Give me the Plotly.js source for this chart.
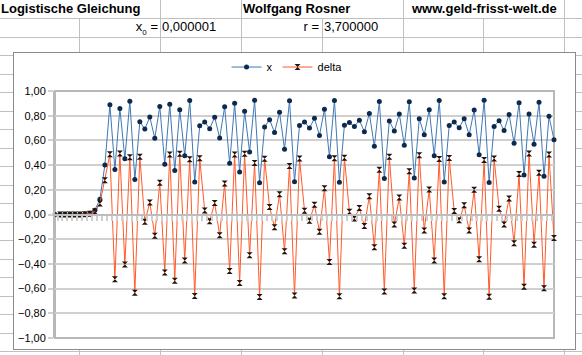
<!DOCTYPE html>
<html>
<head>
<meta charset="utf-8">
<script src="https://cdn.plot.ly/plotly-3.0.1.min.js"></script>
<style>
  html, body { margin: 0; padding: 0; background: #fff; }
  #sheet { position: relative; width: 582px; height: 355px; overflow: hidden; background: #fff;
           font-family: "Liberation Sans", Arial, sans-serif; font-size: 13px; color: #000; }
  .hl { position: absolute; left: 0; width: 582px; height: 1px; background: #c0c0c0; }
  .vl { position: absolute; width: 1px; background: #c0c0c0; }
  .txt { position: absolute; white-space: nowrap; line-height: 18px; }
  .cellbg { position: absolute; background: #fff; }
  #box { position: absolute; left: 13px; top: 52px; width: 563px; height: 298px; background: #fff;
         border: 1px solid #8a8a8a; box-sizing: border-box; }
  #chart { position: absolute; left: 0; top: 0; width: 582px; height: 355px; }
</style>
</head>
<body>
<div id="sheet">
  <div id="grid"></div>
  <div class="cellbg" style="left:0;top:0;width:159px;height:18px;"></div>
  <div class="cellbg" style="left:242px;top:0;width:160px;height:18px;"></div>
  <div class="cellbg" style="left:404px;top:0;width:159px;height:18px;"></div>
  <div class="txt" style="left:1px;top:0;font-weight:bold;">Logistische Gleichung</div>
  <div class="txt" style="left:243px;top:0;font-weight:bold;">Wolfgang Rosner</div>
  <div class="txt" style="left:412px;top:0;font-weight:bold;">www.geld-frisst-welt.de</div>
  <div class="txt" style="left:80px;top:18px;width:78px;text-align:right;">x<sub style="font-size:8px;">0</sub> =</div>
  <div class="txt" style="left:162px;top:18px;">0,000001</div>
  <div class="txt" style="left:242px;top:18px;width:77px;text-align:right;">r = </div>
  <div class="txt" style="left:324px;top:18px;">3,700000</div>
  <div id="box"></div>
  <div id="chart"></div>
</div>
<script>
// ---- data ----
const steps = [0,1,2,3,4,5,6,7,8,9,10,11,12,13,14,15,16,17,18,19,20,21,22,23,24,25,26,27,28,29,30,
  31,32,33,34,35,36,37,38,39,40,41,42,43,44,45,46,47,48,49,50,51,52,53,54,55,56,57,58,59,60,
  61,62,63,64,65,66,67,68,69,70,71,72,73,74,75,76,77,78,79,80,81,82,83,84,85,86,87,88,89,90,
  91,92,93,94,95,96,97,98,99,100];

const xValues = [0.000001,0.0000037,0.0000137,0.0000507,0.000187,0.000693,0.00256,0.00946,0.0347,0.124,
  0.401,0.889,0.365,0.858,0.452,0.917,0.283,0.751,0.692,0.789,
  0.617,0.875,0.406,0.892,0.356,0.848,0.476,0.923,0.263,0.718,
  0.750,0.695,0.788,0.620,0.872,0.414,0.900,0.345,0.836,0.507,
  0.925,0.257,0.708,0.768,0.664,0.827,0.529,0.922,0.266,0.720,
  0.750,0.700,0.779,0.640,0.852,0.468,0.924,0.262,0.722,0.744,
  0.712,0.764,0.670,0.818,0.552,0.914,0.291,0.758,0.677,0.814,
  0.561,0.912,0.296,0.775,0.645,0.848,0.475,0.924,0.263,0.720,
  0.748,0.702,0.776,0.646,0.846,0.484,0.925,0.259,0.713,0.760,
  0.680,0.810,0.577,0.905,0.320,0.814,0.569,0.908,0.310,0.795,
  0.605];

const deltaValues = [null,0.0000027,0.00001,0.000037,0.000137,0.000506,0.00187,0.0069,0.0252,0.089,
  0.278,0.488,-0.524,0.493,-0.405,0.464,-0.633,0.468,-0.059,0.097,
  -0.172,0.258,-0.469,0.486,-0.536,0.492,-0.372,0.447,-0.660,0.455,
  0.032,-0.054,0.093,-0.168,0.252,-0.458,0.486,-0.555,0.491,-0.329,
  0.418,-0.668,0.451,0.060,-0.104,0.163,-0.298,0.393,-0.656,0.454,
  0.030,-0.050,0.079,-0.139,0.212,-0.384,0.456,-0.662,0.460,0.022,
  -0.032,0.052,-0.094,0.148,-0.266,0.362,-0.623,0.467,-0.081,0.137,
  -0.253,0.351,-0.616,0.479,-0.130,0.203,-0.373,0.449,-0.661,0.457,
  0.028,-0.046,0.074,-0.130,0.200,-0.362,0.441,-0.666,0.454,0.047,
  -0.080,0.130,-0.233,0.328,-0.585,0.494,-0.245,0.339,-0.598,0.485,
  -0.190];

const seriesNames = ["x", "delta"];

// ---- spreadsheet grid (background) ----
(function () {
  const g = document.getElementById('grid');
  let html = '';
  const rowLines = [18, 36.5, 55, 73.5, 92, 110.5, 129, 147.5, 166, 184.5, 203, 221.5, 240, 258.5, 277, 295.5, 314, 332.5, 351];
  rowLines.forEach(y => { html += '<div class="hl" style="top:' + Math.round(y) + 'px"></div>'; });
  const colLines = [79, 160, 241, 322, 403, 483, 564];
  colLines.forEach(x => { html += '<div class="vl" style="left:' + x + 'px;top:0;height:355px"></div>'; });
  g.innerHTML = html;
})();

// ---- chart ----
const tickPos = [];
for (let i = 0; i < steps.length - 1; i++) tickPos.push(steps[i] + 0.5);

const traces = [
  {
    x: steps, y: xValues, name: seriesNames[0], type: 'scatter', mode: 'lines+markers',
    line: { color: '#3f78b5', width: 1 },
    marker: { symbol: 'circle', size: 5, color: '#0b2a4d' },
    cliponaxis: false
  },
  {
    x: steps, y: deltaValues, name: seriesNames[1], type: 'scatter', mode: 'lines+markers',
    line: { color: '#ff5a2a', width: 1 },
    marker: { symbol: 'hourglass', size: 6, color: '#24140e', line: { width: 0 } },
    cliponaxis: false
  }
];

const layout = {
  width: 582, height: 355,
  margin: { l: 55, r: 28, t: 91, b: 17, pad: 0 },
  paper_bgcolor: 'rgba(0,0,0,0)',
  plot_bgcolor: '#ffffff',
  separators: ',.',
  font: { family: '"Liberation Sans", Arial, sans-serif', size: 11, color: '#000' },
  showlegend: true,
  legend: {
    orientation: 'h', x: 0.465, xanchor: 'center', y: 1.097, yanchor: 'middle',
    font: { size: 11, color: '#000' }, itemwidth: 30,
    bgcolor: 'rgba(0,0,0,0)', tracegroupgap: 0
  },
  xaxis: {
    range: [0, 100], anchor: 'free', position: 0.5,
    showgrid: false, zeroline: false, showticklabels: false,
    showline: true, linecolor: '#bdbdbd', linewidth: 2,
    tickmode: 'array', tickvals: tickPos, ticks: 'outside', ticklen: 5, tickwidth: 2, tickcolor: '#cfcfcf'
  },
  yaxis: {
    range: [-1, 1], dtick: 0.2, tick0: -1, tickformat: '.2f',
    showgrid: true, gridcolor: '#d0d0d0', gridwidth: 2, zeroline: false,
    showline: true, linecolor: '#b8b8b8', linewidth: 2,
    ticks: 'outside', ticklen: 5, tickwidth: 2, tickcolor: '#d0d0d0',
    tickfont: { size: 11, color: '#000' }
  },
  shapes: [
    { type: 'rect', xref: 'paper', yref: 'paper', x0: 0, x1: 1, y0: 0, y1: 1,
      line: { color: '#b8b8b8', width: 2 }, layer: 'below' }
  ]
};

Plotly.newPlot('chart', traces, layout, { displayModeBar: false, staticPlot: true });
</script>
</body>
</html>
